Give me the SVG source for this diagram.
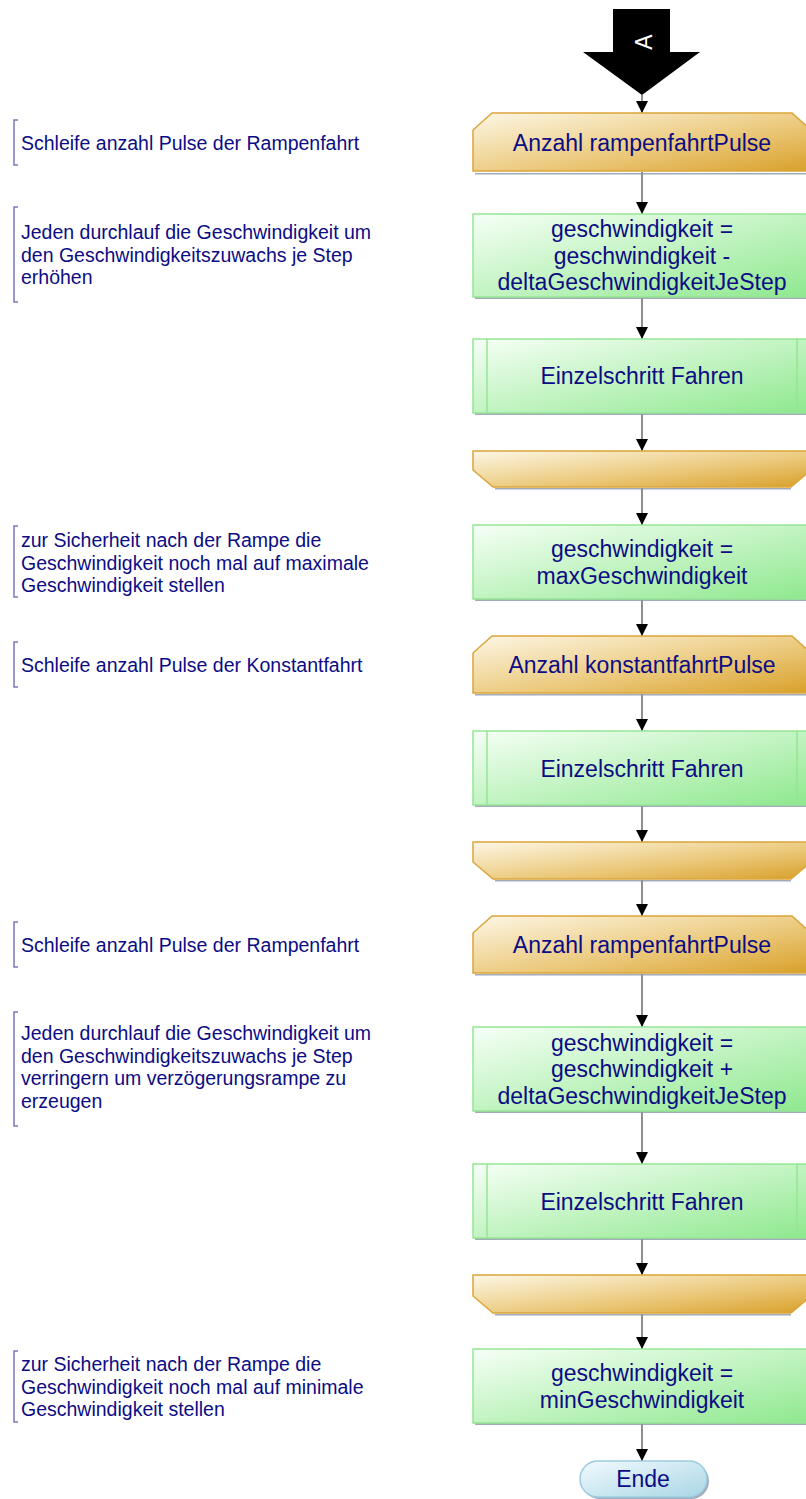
<svg xmlns="http://www.w3.org/2000/svg" width="806" height="1499" viewBox="0 0 806 1499">
  <defs>
    <linearGradient id="gLoop" x1="0" y1="0" x2="1" y2="1">
      <stop offset="0" stop-color="#fdf7e6"/>
      <stop offset="0.55" stop-color="#eccb80"/>
      <stop offset="1" stop-color="#d9a02a"/>
    </linearGradient>
    <linearGradient id="gProc" x1="0" y1="0" x2="1" y2="1">
      <stop offset="0" stop-color="#f6fff6"/>
      <stop offset="1" stop-color="#8ee88e"/>
    </linearGradient>
    <linearGradient id="gEnd" x1="0" y1="0" x2="1" y2="1">
      <stop offset="0" stop-color="#f2fafd"/>
      <stop offset="1" stop-color="#a9d6e6"/>
    </linearGradient>
    <marker id="arrow" viewBox="0 0 12 12" markerWidth="12" markerHeight="12" refX="12" refY="6" orient="auto" markerUnits="userSpaceOnUse">
      <path d="M0,0 L12,6 L0,12 Z" fill="#000"/>
    </marker>
  </defs>
  <style>
    .t { font-family: "Liberation Sans", Arial, sans-serif; font-size: 23px; fill: #0c0c84; text-anchor: middle; }
    .c { font-family: "Liberation Sans", Arial, sans-serif; font-size: 19.5px; fill: #0c0c84; }
    .loop { fill: url(#gLoop); stroke: #dba53a; stroke-width: 1.5; }
    .proc { fill: url(#gProc); stroke: #95e695; stroke-width: 1.5; }
    .inner { stroke: #95e695; stroke-width: 1.5; fill: none; }
    .shadow { fill: #8a96a8; opacity: 0.8; }
    .br { fill: none; stroke: #7878c0; stroke-width: 1.5; }
    .conn line { stroke: #444; stroke-width: 1.2; marker-end: url(#arrow); }
  </style>
  <rect width="806" height="1499" fill="#ffffff"/>

  <!-- connector: off-page entry A -->
  <g id="entryA">
    <polygon points="613,9 670,9 670,52 700,52 642,95 583,52 613,52" fill="#000"/>
    <text class="t" x="0" y="0" fill="#fff" style="fill:#fff" transform="translate(652,42) rotate(-90)">A</text>
  </g>

  <!-- comments -->
  <g id="comment1">
    <path class="br" d="M18,120 L14,120 L14,165 L18,165"/>
    <text class="c" x="21" y="150">Schleife anzahl Pulse der Rampenfahrt</text>
  </g>
  <g id="comment2">
    <path class="br" d="M18,207 L14,207 L14,302 L18,302"/>
    <text class="c" x="21" y="239">Jeden durchlauf die Geschwindigkeit um</text>
    <text class="c" x="21" y="261.5">den Geschwindigkeitszuwachs je Step</text>
    <text class="c" x="21" y="284">erhöhen</text>
  </g>
  <g id="comment3">
    <path class="br" d="M18,526 L14,526 L14,597 L18,597"/>
    <text class="c" x="21" y="547">zur Sicherheit nach der Rampe die</text>
    <text class="c" x="21" y="569.5">Geschwindigkeit noch mal auf maximale</text>
    <text class="c" x="21" y="592">Geschwindigkeit stellen</text>
  </g>
  <g id="comment4">
    <path class="br" d="M18,642 L14,642 L14,687 L18,687"/>
    <text class="c" x="21" y="672">Schleife anzahl Pulse der Konstantfahrt</text>
  </g>
  <g id="comment5">
    <path class="br" d="M18,922 L14,922 L14,967 L18,967"/>
    <text class="c" x="21" y="952">Schleife anzahl Pulse der Rampenfahrt</text>
  </g>
  <g id="comment6">
    <path class="br" d="M18,1012 L14,1012 L14,1126 L18,1126"/>
    <text class="c" x="21" y="1040">Jeden durchlauf die Geschwindigkeit um</text>
    <text class="c" x="21" y="1062.5">den Geschwindigkeitszuwachs je Step</text>
    <text class="c" x="21" y="1085">verringern um verzögerungsrampe zu</text>
    <text class="c" x="21" y="1107.5">erzeugen</text>
  </g>
  <g id="comment7">
    <path class="br" d="M18,1351 L14,1351 L14,1422 L18,1422"/>
    <text class="c" x="21" y="1371">zur Sicherheit nach der Rampe die</text>
    <text class="c" x="21" y="1393.5">Geschwindigkeit noch mal auf minimale</text>
    <text class="c" x="21" y="1416">Geschwindigkeit stellen</text>
  </g>

  <!-- connectors -->
  <g id="connectors" class="conn">
    <line x1="642" y1="95" x2="642" y2="113"/>
    <line x1="642" y1="172" x2="642" y2="214"/>
    <line x1="642" y1="298" x2="642" y2="339"/>
    <line x1="642" y1="414" x2="642" y2="451"/>
    <line x1="642" y1="488" x2="642" y2="525"/>
    <line x1="642" y1="600" x2="642" y2="636"/>
    <line x1="642" y1="694" x2="642" y2="731"/>
    <line x1="642" y1="806" x2="642" y2="842"/>
    <line x1="642" y1="880" x2="642" y2="916"/>
    <line x1="642" y1="974" x2="642" y2="1027"/>
    <line x1="642" y1="1112" x2="642" y2="1164"/>
    <line x1="642" y1="1239" x2="642" y2="1275"/>
    <line x1="642" y1="1314" x2="642" y2="1349"/>
    <line x1="642" y1="1424" x2="642" y2="1461"/>
  </g>

  <!-- loop 1 start -->
  <g id="loopStart1">
    <path class="shadow" d="M475,173 L813,173 L813,174.5 L475,174.5 Z"/>
    <path class="loop" d="M473,130 L492,113 L792,113 L811,130 L811,171 L473,171 Z"/>
    <text class="t" x="642" y="151">Anzahl rampenfahrtPulse</text>
  </g>
  <g id="procDecel">
    <rect class="shadow" x="475" y="297" width="338" height="2"/>
    <rect class="proc" x="473" y="214" width="338" height="83"/>
    <text class="t" x="642" y="237">geschwindigkeit =</text>
    <text class="t" x="642" y="263.5">geschwindigkeit -</text>
    <text class="t" x="642" y="290">deltaGeschwindigkeitJeStep</text>
  </g>
  <g id="step1">
    <rect class="shadow" x="475" y="413" width="338" height="2"/>
    <rect class="proc" x="473" y="339" width="338" height="74"/>
    <line class="inner" x1="487" y1="339" x2="487" y2="413"/>
    <line class="inner" x1="797" y1="339" x2="797" y2="413"/>
    <text class="t" x="642" y="384">Einzelschritt Fahren</text>
  </g>
  <g id="loopEnd1">
    <path class="shadow" d="M495,488 L791,488 L791,489.5 L495,489.5 Z"/>
    <path class="loop" d="M473,451 L811,451 L811,470 L791,487 L493,487 L473,470 Z"/>
  </g>
  <g id="procMax">
    <rect class="shadow" x="475" y="599" width="338" height="2"/>
    <rect class="proc" x="473" y="525" width="338" height="74"/>
    <text class="t" x="642" y="557">geschwindigkeit =</text>
    <text class="t" x="642" y="583.5">maxGeschwindigkeit</text>
  </g>

  <!-- loop 2 -->
  <g id="loopStart2">
    <path class="shadow" d="M475,694 L813,694 L813,695.5 L475,695.5 Z"/>
    <path class="loop" d="M473,653 L492,636 L792,636 L811,653 L811,693 L473,693 Z"/>
    <text class="t" x="642" y="673">Anzahl konstantfahrtPulse</text>
  </g>
  <g id="step2">
    <rect class="shadow" x="475" y="805" width="338" height="2"/>
    <rect class="proc" x="473" y="731" width="338" height="74"/>
    <line class="inner" x1="487" y1="731" x2="487" y2="805"/>
    <line class="inner" x1="797" y1="731" x2="797" y2="805"/>
    <text class="t" x="642" y="777">Einzelschritt Fahren</text>
  </g>
  <g id="loopEnd2">
    <path class="shadow" d="M495,880 L791,880 L791,881.5 L495,881.5 Z"/>
    <path class="loop" d="M473,842 L811,842 L811,862 L791,879 L493,879 L473,862 Z"/>
  </g>

  <!-- loop 3 -->
  <g id="loopStart3">
    <path class="shadow" d="M475,974 L813,974 L813,975.5 L475,975.5 Z"/>
    <path class="loop" d="M473,933 L492,916 L792,916 L811,933 L811,973 L473,973 Z"/>
    <text class="t" x="642" y="953">Anzahl rampenfahrtPulse</text>
  </g>
  <g id="procAccel">
    <rect class="shadow" x="475" y="1111" width="338" height="2"/>
    <rect class="proc" x="473" y="1027" width="338" height="84"/>
    <text class="t" x="642" y="1050.5">geschwindigkeit =</text>
    <text class="t" x="642" y="1077">geschwindigkeit +</text>
    <text class="t" x="642" y="1103.5">deltaGeschwindigkeitJeStep</text>
  </g>
  <g id="step3">
    <rect class="shadow" x="475" y="1238" width="338" height="2"/>
    <rect class="proc" x="473" y="1164" width="338" height="74"/>
    <line class="inner" x1="487" y1="1164" x2="487" y2="1238"/>
    <line class="inner" x1="797" y1="1164" x2="797" y2="1238"/>
    <text class="t" x="642" y="1210">Einzelschritt Fahren</text>
  </g>
  <g id="loopEnd3">
    <path class="shadow" d="M495,1314 L791,1314 L791,1315.5 L495,1315.5 Z"/>
    <path class="loop" d="M473,1275 L811,1275 L811,1296 L791,1313 L493,1313 L473,1296 Z"/>
  </g>
  <g id="procMin">
    <rect class="shadow" x="475" y="1423" width="338" height="2"/>
    <rect class="proc" x="473" y="1349" width="338" height="74"/>
    <text class="t" x="642" y="1381">geschwindigkeit =</text>
    <text class="t" x="642" y="1407.5">minGeschwindigkeit</text>
  </g>

  <!-- terminator -->
  <g id="ende">
    <rect x="582" y="1463" width="127" height="36" rx="18" ry="18" fill="#8a96a8" opacity="0.8"/>
    <rect x="580" y="1461" width="127" height="36" rx="18" ry="18" fill="url(#gEnd)" stroke="#9ccbe0" stroke-width="1.5"/>
    <text class="t" x="643" y="1487">Ende</text>
  </g>
</svg>
